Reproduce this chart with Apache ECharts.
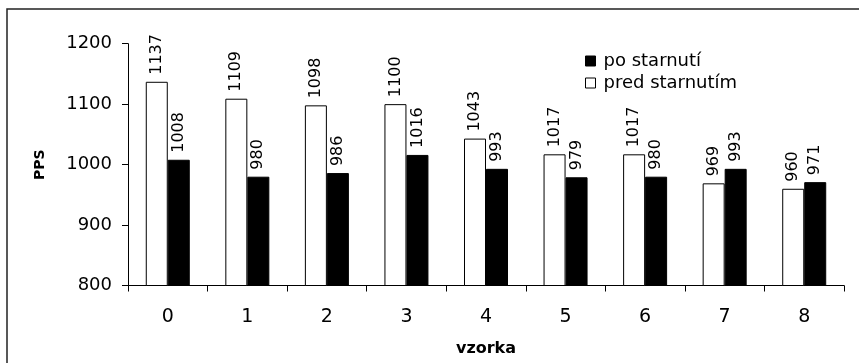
<!DOCTYPE html>
<html>
<head>
<meta charset="utf-8">
<script src="https://cdn.jsdelivr.net/npm/echarts@6/dist/echarts.min.js"></script>
<style>
html,body{margin:0;padding:0;background:#fff;}
#chart{width:859px;height:363px;}
</style>
</head>
<body>
<div id="chart"></div>
<script>
const categories = ['0','1','2','3','4','5','6','7','8'];
const predStarnutim = [1137,1109,1098,1100,1043,1017,1017,969,960];
const poStarnuti = [1008,980,986,1016,993,979,980,993,971];
const yTicks = { min: 800, max: 1200, interval: 100 };
const seriesNames = ['pred starnutím', 'po starnutí'];
const legendOrder = ['po starnutí', 'pred starnutím'];
const xTitle = 'vzorka';
const yTitle = 'PPS';

const FONT = 'DejaVu Sans';
const labelStyle = {
  show: true, position: 'top', rotate: 90, align: 'left', verticalAlign: 'middle',
  distance: 7, fontFamily: FONT, fontSize: 16, color: '#000'
};

const chart = echarts.init(document.getElementById('chart'));
chart.setOption({
  animation: false,
  backgroundColor: '#fff',
  graphic: [{
    type: 'rect', silent: true, z: 100,
    shape: { x: 7, y: 9, width: 880, height: 380 },
    style: { fill: 'none', stroke: '#222', lineWidth: 1.5 }
  }],
  grid: { left: 128, right: 15, top: 43.7, bottom: 77.5, containLabel: false },
  legend: {
    data: legendOrder,
    orient: 'vertical',
    left: 585, top: 51,
    padding: 0,
    icon: 'rect',
    itemWidth: 10, itemHeight: 10,
    itemGap: 2,
    itemStyle: { borderColor: '#000', borderWidth: 1 },
    textStyle: { fontFamily: FONT, fontSize: 18, color: '#000', lineHeight: 20, padding: [0,0,0,3] }
  },
  xAxis: {
    type: 'category',
    data: categories,
    boundaryGap: true,
    name: xTitle, nameLocation: 'middle', nameGap: 55,
    nameTextStyle: { fontFamily: FONT, fontSize: 16, fontWeight: 'bold', color: '#000' },
    axisLine: { show: true, lineStyle: { color: '#000', width: 1 } },
    axisTick: { show: true, length: 6, alignWithLabel: false, lineStyle: { color: '#000' } },
    axisLabel: { fontFamily: FONT, fontSize: 19, color: '#000', margin: 22 },
    splitLine: { show: false }
  },
  yAxis: {
    type: 'value',
    min: yTicks.min, max: yTicks.max, interval: yTicks.interval,
    name: yTitle, nameLocation: 'middle', nameGap: 81,
    nameTextStyle: { fontFamily: FONT, fontSize: 14, fontWeight: 'bold', color: '#000' },
    axisLine: { show: true, lineStyle: { color: '#000', width: 1 } },
    axisTick: { show: true, length: 6, lineStyle: { color: '#000' } },
    axisLabel: { fontFamily: FONT, fontSize: 18, color: '#000', margin: 16,
                 formatter: function (v) { return String(v); } },
    splitLine: { show: false }
  },
  series: [
    {
      name: seriesNames[0], type: 'bar', data: predStarnutim,
      barWidth: 22, barGap: '0%',
      itemStyle: { color: '#fff', borderColor: '#000', borderWidth: 1 },
      label: labelStyle
    },
    {
      name: seriesNames[1], type: 'bar', data: poStarnuti,
      barWidth: 22, barGap: '0%',
      itemStyle: { color: '#000', borderColor: '#000', borderWidth: 1 },
      label: labelStyle
    }
  ]
});
</script>
</body>
</html>
